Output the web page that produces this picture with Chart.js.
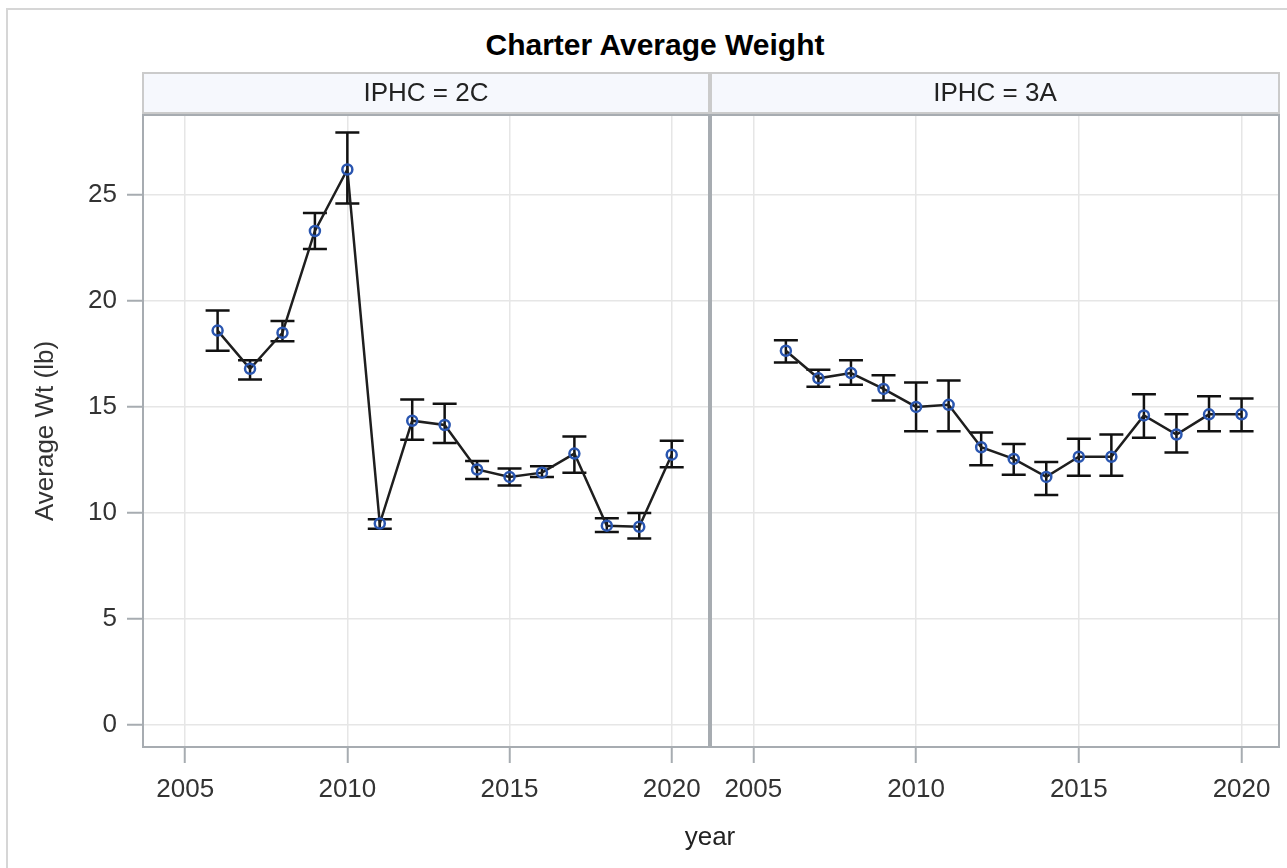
<!DOCTYPE html>
<html lang="en">
<head>
  <meta charset="UTF-8" />
  <title>Charter Average Weight</title>
  <script src="https://cdn.jsdelivr.net/npm/chart.js"></script>
  <style>
    body {
      margin: 0;
      background: #fff;
      font-family: 'Liberation Sans', Arial, sans-serif;
    }
    #wrap { position: relative; width: 1287px; height: 868px; overflow: hidden; }
    #frame {
      position: absolute; left: 6px; top: 8px; width: 1400px; height: 1000px;
      border: 2px solid #d6d6d6;
    }
    #title {
      position: absolute; left: 0; width: 1310px; top: 28px;
      text-align: center; font-weight: bold; font-size: 30px; line-height: normal; color: #000;
    }
    #left { position: absolute; left: 0; top: 0; width: 710px; height: 868px; }
    #right { position: absolute; left: 710px; top: 0; width: 577px; height: 868px; }
    #xtitle {
      position: absolute; left: 610px; width: 200px; top: 821px;
      text-align: center; font-size: 26px; line-height: normal; color: #222;
    }
  </style>
</head>
<body>
  <div id="wrap">
    <div id="frame"></div>
    <div id="title">Charter Average Weight</div>
    <div id="left"><canvas id="chart2C"></canvas></div>
    <div id="right"><canvas id="chart3A"></canvas></div>
    <div id="xtitle">year</div>
  </div>

  <script>
    // values
    const years = [2006, 2007, 2008, 2009, 2010, 2011, 2012, 2013, 2014, 2015, 2016, 2017, 2018, 2019, 2020];

    const wt2C = [18.6, 16.8, 18.5, 23.3, 26.2, 9.5, 14.35, 14.15, 12.05, 11.7, 11.9, 12.8, 9.4, 9.35, 12.75];
    const lo2C = [17.65, 16.3, 18.1, 22.45, 24.6, 9.25, 13.45, 13.3, 11.6, 11.3, 11.7, 11.9, 9.1, 8.8, 12.15];
    const hi2C = [19.55, 17.2, 19.05, 24.15, 27.95, 9.7, 15.35, 15.15, 12.45, 12.1, 12.2, 13.6, 9.75, 10.0, 13.4];

    const wt3A = [17.65, 16.35, 16.6, 15.85, 15.0, 15.1, 13.1, 12.55, 11.7, 12.65, 12.65, 14.6, 13.7, 14.65, 14.65];
    const lo3A = [17.1, 15.95, 16.05, 15.3, 13.85, 13.85, 12.25, 11.8, 10.85, 11.75, 11.75, 13.55, 12.85, 13.85, 13.85];
    const hi3A = [18.15, 16.75, 17.2, 16.5, 16.15, 16.25, 13.8, 13.25, 12.4, 13.5, 13.7, 15.6, 14.65, 15.5, 15.4];

    const xTicks = [2005, 2010, 2015, 2020];
    const yTicks = [0, 5, 10, 15, 20, 25];

    const FONT = "'Liberation Sans', Arial, sans-serif";
    Chart.defaults.font.family = FONT;
    Chart.defaults.font.size = 26;
    Chart.defaults.color = '#333';

    const gridColor = '#e6e6e6';
    const axisColor = '#a7acb1';

    // error bars under the markers, panel box and header strip on top
    function panelPlugin(lows, highs, label) {
      return {
        id: 'panel',
        beforeDatasetsDraw(chart) {
          const { ctx, scales: { x, y } } = chart;
          ctx.save();
          ctx.strokeStyle = '#111';
          ctx.lineWidth = 2.5;
          ctx.beginPath();
          years.forEach((yr, i) => {
            const px = x.getPixelForValue(yr);
            const pLo = y.getPixelForValue(lows[i]);
            const pHi = y.getPixelForValue(highs[i]);
            ctx.moveTo(px, pLo); ctx.lineTo(px, pHi);
            ctx.moveTo(px - 12, pLo); ctx.lineTo(px + 12, pLo);
            ctx.moveTo(px - 12, pHi); ctx.lineTo(px + 12, pHi);
          });
          ctx.stroke();
          ctx.restore();
        },
        afterDraw(chart) {
          const { ctx, chartArea: { left, top, right, bottom } } = chart;
          ctx.save();
          ctx.strokeStyle = axisColor;
          ctx.lineWidth = 2;
          ctx.strokeRect(left, top, right - left, bottom - top);

          ctx.fillStyle = '#f6f8fd';
          ctx.fillRect(left, top - 42, right - left, 40);
          ctx.strokeStyle = '#cbcbcb';
          ctx.lineWidth = 2;
          ctx.strokeRect(left, top - 42, right - left, 40);

          ctx.fillStyle = '#222';
          ctx.font = '26px ' + FONT;
          ctx.textAlign = 'center';
          ctx.textBaseline = 'middle';
          ctx.fillText(label, (left + right) / 2, top - 21);
          ctx.restore();
        }
      };
    }

    function noOverhang(axis) {
      axis.paddingLeft = 0;
      axis.paddingRight = 0;
      axis.paddingTop = 0;
      axis.paddingBottom = 0;
    }

    function makePanel(id, values, lows, highs, label, showY, padRight) {
      return new Chart(document.getElementById(id), {
        type: 'line',
        data: {
          datasets: [{
            data: years.map((yr, i) => ({ x: yr, y: values[i] })),
            borderColor: '#1e1e1e',
            borderWidth: 2.5,
            tension: 0,
            pointRadius: 5,
            pointBorderWidth: 2.5,
            pointBorderColor: '#2a56b0',
            pointBackgroundColor: 'rgba(0,0,0,0)'
          }]
        },
        options: {
          responsive: true,
          maintainAspectRatio: false,
          animation: false,
          layout: { autoPadding: false, padding: { top: 115, right: padRight, left: 0, bottom: 0 } },
          plugins: { legend: { display: false }, tooltip: { enabled: false } },
          scales: {
            x: {
              type: 'linear',
              min: 2003.7,
              max: 2021.15,
              afterBuildTicks: (axis) => { axis.ticks = xTicks.map(v => ({ value: v })); },
              afterFit: (axis) => { axis.height = 121; noOverhang(axis); },
              grid: { color: gridColor, lineWidth: 1.5, tickLength: 16, tickColor: axisColor, tickWidth: 2 },
              border: { display: false },
              ticks: { padding: 11, color: '#333', maxRotation: 0, callback: (v) => String(v) }
            },
            y: {
              min: -1.04,
              max: 28.77,
              afterBuildTicks: (axis) => { axis.ticks = yTicks.map(v => ({ value: v })); },
              afterFit: (axis) => { axis.width = showY ? 143 : 1; noOverhang(axis); },
              grid: { color: gridColor, lineWidth: 1.5, drawTicks: showY, tickLength: 16, tickColor: axisColor, tickWidth: 2 },
              border: { display: false },
              ticks: { display: showY, padding: 10, color: '#333', callback: (v) => String(v) },
              title: { display: showY, text: 'Average Wt (lb)', color: '#333', padding: { top: 30, bottom: 0 } }
            }
          }
        },
        plugins: [panelPlugin(lows, highs, label)]
      });
    }

    makePanel('chart2C', wt2C, lo2C, hi2C, 'IPHC = 2C', true, 1);
    makePanel('chart3A', wt3A, lo3A, hi3A, 'IPHC = 3A', false, 8);
  </script>
</body>
</html>
